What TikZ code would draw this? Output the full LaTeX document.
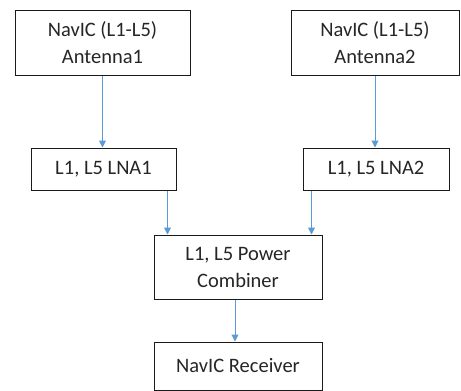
\documentclass[tikz,border=0pt]{standalone}
\usepackage{fontspec}
\setmainfont{Carlito}
\usetikzlibrary{arrows.meta}
\definecolor{arrowblue}{HTML}{5B9BD5}
\definecolor{boxline}{HTML}{1A1A1A}
\tikzset{
  blk/.style={draw=boxline, line width=1pt, fill=white, align=center, inner sep=0pt,
    font=\fontsize{20.5}{27}\selectfont, text=black!85},
  arr/.style={draw=arrowblue, line width=1pt, -{Triangle[length=7pt,width=7pt]}}
}
\begin{document}
\begin{tikzpicture}[x=1pt,y=-1pt]
\useasboundingbox (0,0) rectangle (461,391);
\node[blk, minimum width=175pt, minimum height=65pt] (A1) at (102.5,42.5) {NavIC (L1-L5)\\Antenna1};
\node[blk, minimum width=168pt, minimum height=65pt] (A2) at (375,42.5) {NavIC (L1-L5)\\Antenna2};
\node[blk, minimum width=145pt, minimum height=42pt] (L1) at (103.5,169) {L1, L5 LNA1};
\node[blk, minimum width=146pt, minimum height=42pt] (L2) at (376,169) {L1, L5 LNA2};
\node[blk, minimum width=168pt, minimum height=64pt] (C) at (238,267) {L1, L5 Power\\Combiner};
\node[blk, minimum width=168pt, minimum height=48pt] (R) at (238,366) {NavIC Receiver};
\draw[arr] (A1.south) -- (A1.south |- L1.north);
\draw[arr] (A2.south) -- (A2.south |- L2.north);
\draw[arr] ([xshift=-9pt]L1.south east) -- ([xshift=-9pt]L1.south east |- C.north);
\draw[arr] ([xshift=9pt]L2.south west) -- ([xshift=9pt]L2.south west |- C.north);
\draw[arr] ([xshift=-3pt]C.south) -- ([xshift=-3pt]C.south |- R.north);
\end{tikzpicture}
\end{document}
